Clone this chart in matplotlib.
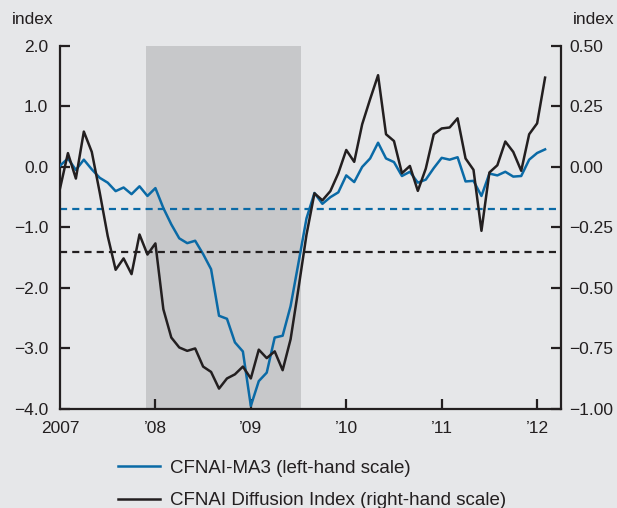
import numpy as np
import matplotlib
matplotlib.use("Agg")
import matplotlib.pyplot as plt
from matplotlib.lines import Line2D

plt.rcParams['font.family'] = ['Liberation Sans', 'DejaVu Sans']

# monthly data, Jan 2007 .. Feb 2012
start_year = 2007
ma3 = [0.02, 0.14, -0.05, 0.12, -0.04, -0.18, -0.26, -0.40, -0.34, -0.45, -0.32, -0.48,
       -0.35, -0.68, -0.95, -1.18, -1.26, -1.22, -1.44, -1.69, -2.46, -2.51, -2.90, -3.05,
       -3.95, -3.54, -3.40, -2.82, -2.79, -2.30, -1.58, -0.85, -0.43, -0.61, -0.50, -0.42,
       -0.14, -0.25, 0.00, 0.14, 0.40, 0.14, 0.08, -0.15, -0.08, -0.26, -0.21, -0.02,
       0.15, 0.12, 0.16, -0.24, -0.23, -0.48, -0.11, -0.14, -0.08, -0.16, -0.15, 0.12,
       0.23, 0.29]
diffusion = [-0.09, 0.057, -0.048, 0.146, 0.062, -0.106, -0.285, -0.425, -0.378, -0.443, -0.279, -0.362,
             -0.316, -0.588, -0.705, -0.746, -0.76, -0.75, -0.825, -0.847, -0.916, -0.874, -0.857, -0.825,
             -0.874, -0.755, -0.79, -0.762, -0.84, -0.712, -0.50, -0.28, -0.109, -0.138, -0.10, -0.026,
             0.07, 0.021, 0.176, 0.28, 0.379, 0.135, 0.107, -0.026, 0.004, -0.099, -0.007, 0.135,
             0.159, 0.163, 0.201, 0.035, -0.012, -0.264, -0.023, 0.007, 0.105, 0.062, -0.016, 0.135,
             0.18, 0.369]
ma3_threshold = -0.7
diffusion_threshold = -0.35
recession = (2007.9, 2009.53)

left_ticks = [2.0, 1.0, 0.0, -1.0, -2.0, -3.0, -4.0]
right_ticks = [0.50, 0.25, 0.00, -0.25, -0.50, -0.75, -1.00]
x_ticks = [2007, 2008, 2009, 2010, 2011, 2012]
x_labels = ['2007', '\u201908', '\u201909', '\u201910', '\u201911', '\u201912']

x = start_year + np.arange(len(ma3)) / 12.0

bg = '#e6e7e9'
ink = '#231f20'
blue = '#0a6aa6'

fig = plt.figure(figsize=(6.17, 5.08), dpi=100, facecolor=bg)
ax = fig.add_axes([0.0972, 0.195, 0.812, 0.7146])
ax.set_facecolor(bg)
ax2 = ax.twinx()

ax.axvspan(recession[0], recession[1], color='#c7c8ca', lw=0, zorder=0)
ax.plot(x, ma3, color=blue, lw=1.8, zorder=3)
ax.axhline(ma3_threshold, color=blue, lw=1.6, ls=(0, (3.2, 2.3)), zorder=2)
ax2.plot(x, diffusion, color=ink, lw=1.8, zorder=3)
ax2.axhline(diffusion_threshold, color=ink, lw=1.6, ls=(0, (3.2, 2.3)), zorder=2)

ax.set_xlim(2007, 2012.25)
ax.set_ylim(-4, 2)
ax2.set_ylim(-1, 0.5)

ax.set_yticks(left_ticks)
ax.set_yticklabels([f'{v:.1f}'.replace('-', '\u2212') for v in left_ticks])
ax2.set_yticks(right_ticks)
ax2.set_yticklabels([f'{v:.2f}'.replace('-', '\u2212') for v in right_ticks])
ax.set_xticks(x_ticks)
ax.set_xticklabels(x_labels)

for a in (ax, ax2):
    a.spines['top'].set_visible(False)
    for s in a.spines.values():
        s.set_color(ink)
        s.set_linewidth(1.6)
ax.spines['right'].set_visible(False)
ax2.spines['left'].set_visible(False)
ax2.spines['bottom'].set_visible(False)

ax.tick_params(axis='y', direction='in', length=7, width=1.6, colors=ink, labelsize=12.5, pad=8.5)
ax.tick_params(axis='x', direction='in', length=7, width=1.6, colors=ink, labelsize=12.5, pad=8.5)
ax2.tick_params(axis='y', direction='in', length=7, width=1.6, colors=ink, labelsize=12.5, pad=6)
ax.xaxis.get_major_ticks()[0].tick1line.set_visible(False)

fig.text(12 / 617, 1 - 20 / 508, 'index', fontsize=12.5, color=ink, va='center', ha='left')
fig.text(614 / 617, 1 - 20 / 508, 'index', fontsize=12.5, color=ink, va='center', ha='right')

handles = [Line2D([], [], color=blue, lw=1.8), Line2D([], [], color=ink, lw=1.8)]
labels = ['CFNAI-MA3 (left-hand scale)', 'CFNAI Diffusion Index (right-hand scale)']
fig.legend(handles, labels, loc='upper left', bbox_to_anchor=(101 / 617, 1 - 443 / 508),
           frameon=False, fontsize=13.5, handlelength=2.24, handletextpad=0.53,
           labelspacing=0.8, labelcolor=ink)

fig.savefig('out.png', dpi=100, facecolor=bg)
